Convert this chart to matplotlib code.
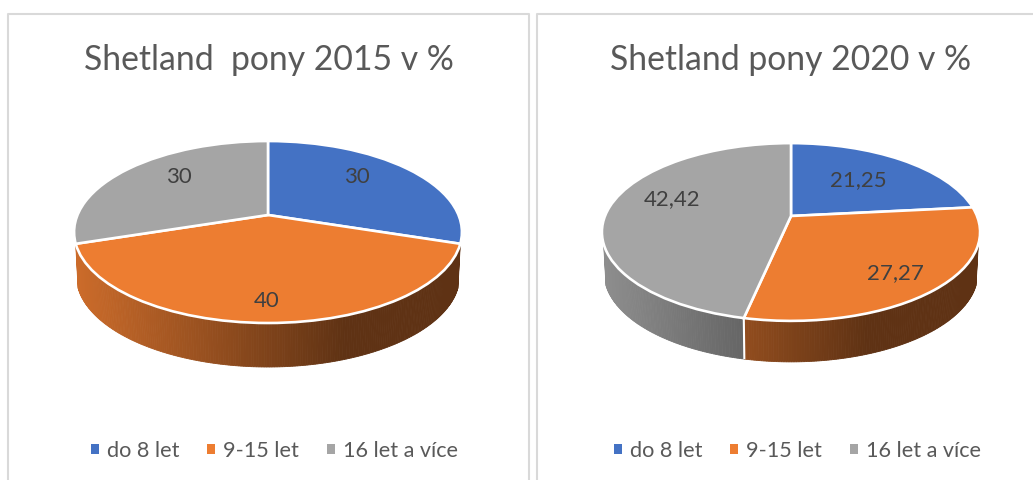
import numpy as np
import matplotlib
matplotlib.use("Agg")
import matplotlib.pyplot as plt
from matplotlib.patches import Patch
from matplotlib.transforms import Transform
from matplotlib.colors import to_rgb

plt.rcParams['font.family'] = ['Lato', 'DejaVu Sans']

categories = ['do 8 let', '9-15 let', '16 let a více']
values_2015 = [30, 40, 30]
values_2020 = [21.25, 27.27, 42.42]
title_2015 = 'Shetland  pony 2015 v %'
title_2020 = 'Shetland pony 2020 v %'

colors = ['#4472C4', '#ED7D31', '#A5A5A5']
W, H = 1033, 480


class Tilt(Transform):
    """Perspective view of the unit-circle pie, output in pixel coordinates."""
    input_dims = output_dims = 2

    def __init__(self, cx, cy, rx, ry, k):
        super().__init__()
        self.p = (cx, cy, rx, ry, k)

    def transform_non_affine(self, xy):
        cx, cy, rx, ry, k = self.p
        xy = np.asarray(xy, float)
        w = 1 + k * xy[:, 1]
        return np.column_stack([cx + rx * xy[:, 0] / w, cy - ry * xy[:, 1] / w])


def draw_panel(box, values, title, center, rx, ry, k, depth, label_xy, title_x, title_y, legend_x):
    x0, x1 = box
    ax = fig.add_axes([x0 / W, 0, (x1 - x0) / W, 1])
    wedges, _ = ax.pie(values, colors=colors, startangle=90, counterclock=False,
                       wedgeprops=dict(edgecolor='white', linewidth=1.9, zorder=3))
    ax.set_aspect('auto')
    ax.set_xlim(x0, x1)
    ax.set_ylim(H, 0)
    tilt = Tilt(*center, rx, ry, k)
    for w in wedges:
        w.set_transform(tilt + ax.transData)

    # side wall of the disc, from the same slice angles
    total = sum(values)
    edges = np.concatenate([[0], np.cumsum(values)]) / total * 2 * np.pi
    t_min = np.radians(108)
    t_max = 2 * np.pi - t_min
    xleft, xright = center[0] - rx * 1.015, center[0] + rx * 1.015

    def rim(t):
        return tilt.transform_non_affine(np.column_stack([np.sin(t), np.cos(t)]))

    for a, b, col in zip(edges[:-1], edges[1:], colors):
        a, b = max(a, t_min), min(b, t_max)
        if b <= a + 1e-6:
            continue
        ts = np.linspace(a, b, max(2, int((b - a) * 90)))
        pts = rim(ts)
        base = np.array(to_rgb(col))
        for i in range(len(ts) - 1):
            p, q = pts[i], pts[i + 1]
            mid = (p[0] + q[0]) / 2
            f = (mid - xleft) / (xright - xleft)
            fac = max(0.40, 0.86 - 0.46 * f / 0.7)
            shade = base * fac
            xs = [p[0], q[0],
                  center[0] + (q[0] - center[0]) * 0.988,
                  center[0] + (p[0] - center[0]) * 0.988]
            ys = [p[1], q[1], q[1] + depth, p[1] + depth]
            ax.fill(xs, ys, color=shade, lw=0.6, zorder=1)
    for e in edges[1:-1]:
        if np.radians(120) < e < np.radians(240):
            p = rim(np.array([e]))[0]
            ax.plot([p[0], center[0] + (p[0] - center[0]) * 0.988], [p[1], p[1] + depth],
                    color='white', lw=1.5, zorder=2, solid_capstyle='butt')

    for v, (lx, ly) in zip(values, label_xy):
        ax.text(lx, ly, f'{v:g}'.replace('.', ','), ha='center', va='center',
                fontsize=16, color='#404040', zorder=5)

    ax.set_title(title, x=(title_x - x0) / (x1 - x0), y=1 - title_y / H, va='center',
                 fontsize=24.3, color='#595959', pad=0)

    handles = [Patch(facecolor=c, edgecolor='none', label=n) for c, n in zip(colors, categories)]
    ax.legend(handles=handles, ncol=3, loc='center', bbox_to_anchor=(legend_x, 451),
              bbox_transform=ax.transData, frameon=False, fontsize=15.6, labelcolor='#595959',
              handlelength=0.37, handleheight=0.37, handletextpad=0.38, columnspacing=1.27,
              borderpad=0, borderaxespad=0)
    return ax


fig = plt.figure(figsize=(W / 100, H / 100), dpi=100, facecolor='white')

draw_panel((8, 529), values_2015, title_2015, (268, 215), 190.5, 87.8, 0.187, 44,
           [(357, 177), (267, 301), (179, 177)], 268.5, 60, 274.5)
draw_panel((537, 1033), values_2020, title_2020, (791, 216), 186, 86, 0.18, 41,
           [(858, 180), (895, 273), (672, 199)], 791, 60, 797.5)

# card borders
border = dict(color='#D9D9D9', lw=1.5, transform=fig.transFigure, zorder=10)
fig.add_artist(plt.Line2D([8 / W, 8 / W, 529 / W, 529 / W],
                          [0, 1 - 13.5 / H, 1 - 13.5 / H, 0], **border))
fig.add_artist(plt.Line2D([537 / W, 537 / W, 1],
                          [0, 1 - 13.5 / H, 1 - 13.5 / H], **border))

fig.savefig('out.png', dpi=100, facecolor='white')
